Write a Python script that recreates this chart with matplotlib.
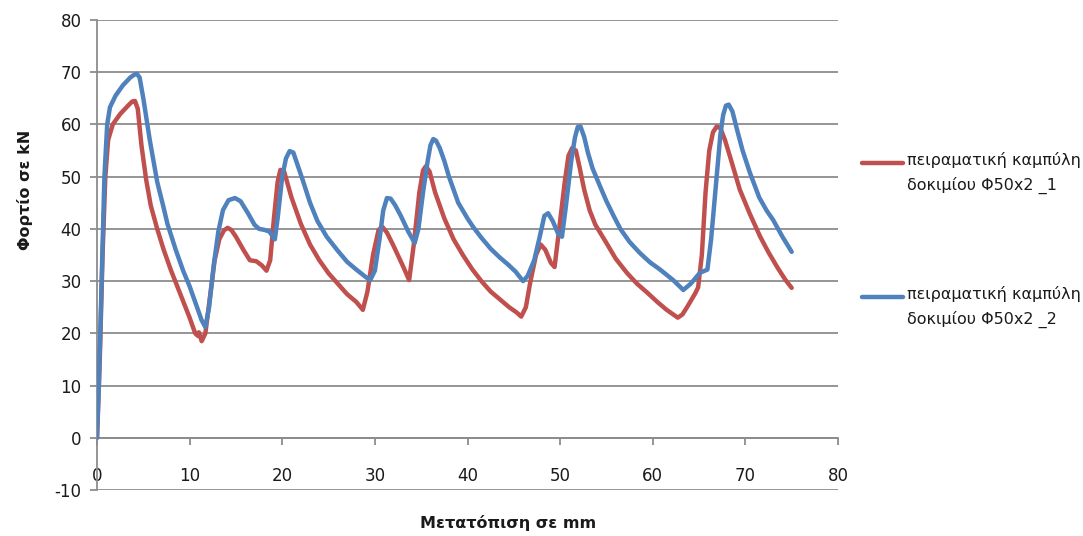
import matplotlib
matplotlib.use("Agg")
import matplotlib.pyplot as plt
from matplotlib.lines import Line2D

# Load-displacement readings for the two specimens: (displacement mm, load kN)
specimen_1 = [
    (0, 0), (0.3, 15), (0.6, 35), (0.9, 50), (1.2, 57), (1.7, 60), (2.5, 62), (3.3, 63.5),
    (3.8, 64.4), (4.1, 64.5), (4.4, 63), (4.8, 56), (5.3, 49.5), (5.8, 44.5), (6.5, 40),
    (7.2, 36), (8.0, 32), (9.0, 27.5), (10.0, 23), (10.6, 20), (10.9, 19.5), (11.0, 20.2),
    (11.3, 18.5), (11.7, 20), (12.2, 27), (12.7, 34), (13.2, 38), (13.7, 39.7), (14.1, 40.2),
    (14.5, 39.8), (15.0, 38.5), (15.8, 36), (16.5, 34), (17.2, 33.8), (17.8, 33), (18.3, 32),
    (18.7, 34), (19.1, 42), (19.5, 49), (19.8, 51.3), (20.2, 51), (21, 46), (22, 41), (23, 37),
    (24, 34), (25, 31.5), (26, 29.5), (27, 27.5), (28, 26), (28.7, 24.5), (29.2, 28),
    (29.8, 35), (30.4, 39.8), (30.8, 40.4), (31.3, 39.3), (32, 36.8), (33, 33), (33.7, 30.2),
    (34.2, 37), (34.8, 47), (35.2, 51.2), (35.5, 52), (35.9, 51), (36.5, 47), (37.5, 42),
    (38.5, 38), (39.5, 35), (40.5, 32.3), (41.5, 30), (42.5, 28), (43.5, 26.5), (44.5, 25),
    (45.3, 24), (45.8, 23.2), (46.3, 25), (46.8, 30), (47.4, 35), (47.9, 37), (48.4, 36),
    (49, 33.5), (49.4, 32.7), (49.9, 40), (50.5, 49), (50.9, 54), (51.3, 55.5), (51.7, 55),
    (52.1, 51.8), (52.6, 47.5), (53.2, 43.5), (53.8, 40.8), (55.0, 37.3), (56.0, 34.3),
    (57.2, 31.6), (58.3, 29.5), (59.4, 27.8), (60.5, 26), (61.5, 24.5), (62.3, 23.5),
    (62.7, 23), (63.2, 23.6), (63.7, 25), (64.6, 27.7), (64.9, 28.8), (65.3, 35), (65.7, 47),
    (66.1, 55), (66.5, 58.5), (66.9, 59.6), (67.3, 59.3), (67.8, 57), (68.4, 53.5),
    (69.4, 47.5), (70.5, 42.8), (71.6, 38.5), (72.5, 35.5), (73.5, 32.5), (74.3, 30.3),
    (75, 28.7),
]

specimen_2 = [
    (0, 0), (0.2, 10), (0.5, 30), (0.8, 50), (1.1, 60), (1.4, 63.3), (2.0, 65.5), (2.8, 67.5),
    (3.6, 69), (4.0, 69.5), (4.3, 69.7), (4.6, 69), (5.0, 65), (5.7, 57), (6.5, 49), (7.2, 44),
    (7.6, 41), (8.5, 36), (9.3, 32), (10.0, 29), (10.8, 25), (11.3, 22.5), (11.7, 21.2),
    (12.1, 25), (12.6, 33), (13.1, 39.5), (13.6, 43.6), (14.2, 45.5), (14.9, 45.9),
    (15.5, 45.3), (16.3, 43), (17.0, 40.8), (17.5, 40), (18.1, 39.8), (18.6, 39.5), (19.2, 38),
    (19.5, 42), (20.0, 50), (20.4, 53.5), (20.8, 54.9), (21.2, 54.6), (21.7, 52), (22.2, 49.4),
    (23, 45), (23.8, 41.5), (24.8, 38.5), (26, 35.8), (27, 33.7), (28, 32.2), (29, 30.8),
    (29.5, 30.2), (30, 32), (30.5, 38), (30.9, 43.5), (31.3, 45.9), (31.7, 45.8), (32.2, 44.5),
    (32.8, 42.5), (33.6, 39.5), (34.3, 37.3), (34.7, 40), (35.2, 47), (35.7, 53), (36.0, 56),
    (36.3, 57.2), (36.6, 56.9), (37.0, 55.5), (37.5, 53), (38, 50), (39, 45), (40, 42),
    (40.6, 40.4), (41.5, 38.3), (42.5, 36.2), (43.5, 34.5), (44.3, 33.3), (45.2, 31.8),
    (46.0, 30), (46.5, 31), (47.2, 34), (47.8, 38.5), (48.3, 42.5), (48.7, 43), (49.2, 41.5),
    (49.8, 39), (50.2, 38.5), (50.6, 44), (51.2, 53), (51.6, 57.5), (51.9, 59.5), (52.2, 59.6),
    (52.6, 57.6), (53.0, 54.6), (53.5, 51.6), (54.3, 48.2), (55.0, 45.3), (55.8, 42.4),
    (56.5, 40), (57.5, 37.5), (58.6, 35.4), (59.7, 33.6), (60.8, 32.2), (62.2, 30.2),
    (63.3, 28.3), (64.1, 29.5), (65.1, 31.6), (65.9, 32.2), (66.3, 38), (66.8, 48), (67.3, 58),
    (67.6, 61.8), (67.9, 63.6), (68.2, 63.8), (68.6, 62.5), (69.1, 59), (69.7, 55),
    (70.5, 50.7), (71.5, 46), (72.3, 43.5), (73, 41.7), (74, 38.5), (75, 35.6),
]

label_1 = "πειραματική καμπύλη\nδοκιμίου Φ50x2 _1"
label_2 = "πειραματική καμπύλη\nδοκιμίου Φ50x2 _2"
x_ticks = [0, 10, 20, 30, 40, 50, 60, 70, 80]
y_ticks = [-10, 0, 10, 20, 30, 40, 50, 60, 70, 80]

RED = "#C0504D"
BLUE = "#4F81BD"
GRID = "#8C8C8C"

plt.rcParams["font.family"] = ["DejaVu Sans"]
plt.rcParams["axes.unicode_minus"] = False

fig = plt.figure(figsize=(10.83, 5.36), dpi=100)
ax = fig.add_axes([97 / 1083, 1 - 490 / 536, (838 - 97) / 1083, (490 - 20) / 536])

for data, colr, z in ((specimen_1, RED, 3), (specimen_2, BLUE, 4)):
    xs, ys = zip(*data)
    ax.plot(xs, ys, color=colr, lw=3.2, solid_joinstyle="round",
            solid_capstyle="round", zorder=z)

ax.set_xlim(0, 80)
ax.set_ylim(-10, 80)
ax.set_xticks(x_ticks)
ax.set_yticks(y_ticks)

ax.yaxis.grid(True, color=GRID, lw=1.3)
ax.set_axisbelow(True)

for side in ("top", "right"):
    ax.spines[side].set_visible(False)
ax.spines["bottom"].set_position(("data", 0))
for side in ("bottom", "left"):
    ax.spines[side].set_color(GRID)
    ax.spines[side].set_linewidth(1.3)

ax.tick_params(axis="x", direction="out", length=5, width=1.3, color=GRID,
               labelsize=12, pad=16, labelcolor="#1a1a1a")
ax.tick_params(axis="y", direction="out", length=5, width=1.3, color=GRID,
               labelsize=12, pad=6, labelcolor="#1a1a1a")

fig.text(25 / 1083, 1 - 190 / 536, "Φορτίο σε kN", rotation=90, ha="center", va="center",
         fontsize=11.5, fontweight="bold", color="#1a1a1a")
fig.text(508 / 1083, 1 - 523 / 536, "Μετατόπιση σε mm", ha="center", va="center",
         fontsize=11.5, fontweight="bold", color="#1a1a1a")

# Legend drawn at the right of the plot area
for colr, lab, y0 in ((RED, label_1, 163), (BLUE, label_2, 297)):
    fig.add_artist(Line2D([862 / 1083, 903 / 1083], [1 - y0 / 536, 1 - y0 / 536],
                          color=colr, lw=3.2, solid_capstyle="round"))
    fig.text(907 / 1083, 1 - (y0 - 11) / 536, lab, ha="left", va="top",
             fontsize=11.5, color="#1a1a1a", linespacing=1.7)

fig.savefig("out.png", dpi=100)
